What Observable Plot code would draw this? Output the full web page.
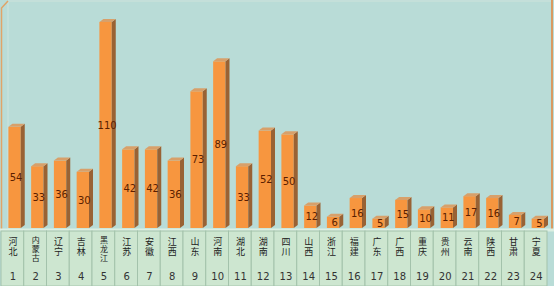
<!DOCTYPE html>
<html><head><meta charset="utf-8">
<script src="https://cdn.jsdelivr.net/npm/d3@7"></script>
<script src="https://cdn.jsdelivr.net/npm/@observablehq/plot@0.6"></script>
<style>body{margin:0;background:#fff}#chart svg{display:block}</style>
</head><body><div id="chart"></div>
<script>
const ids = ["1","2","3","4","5","6","7","8","9","10","11","12","13","14","15","16","17","18","19","20","21","22","23","24"];
const names = ["河北","内蒙古","辽宁","吉林","黑龙江","江苏","安徽","江西","山东","河南","湖北","湖南","四川","山西","浙江","福建","广东","广西","重庆","贵州","云南","陕西","甘肃","宁夏"];
const values = [54,33,36,30,110,42,42,36,73,89,33,52,50,12,6,16,5,15,10,11,17,16,7,5];

const data = ids.map((id, i) => ({id, name: names[i], v: values[i], stack: names[i].split("").join("\n")}));
const shortNames = data.filter(d => d.name.length <= 2);
const longNames = data.filter(d => d.name.length > 2);
const floorY = -31;   // bottom of label band (in value units)
const bandTop = -1.6; // top of label band
const W = 554, H = 286;
const inset = 5.2, shift = 2.2, depthX = 4, depthY = 3;
const cjk = "'Liberation Sans', 'Noto Sans CJK SC', sans-serif";

function box(index, scales) {
  const g = d3.create("svg:g");
  const {x, y} = scales;
  const bw = x.bandwidth ? x.bandwidth() : 22.6;
  for (const d of data) {
    const x0 = x(d.id) + inset + shift, x1 = x(d.id) + bw - inset + shift;
    const yt = y(d.v), yb = y(0);
    g.append("polygon")
      .attr("points", `${x1},${yt} ${x1+depthX},${yt-depthY} ${x1+depthX},${yb-depthY} ${x1},${yb}`)
      .attr("fill", "#996234");
    g.append("polygon")
      .attr("points", `${x0},${yt} ${x0+depthX},${yt-depthY} ${x1+depthX},${yt-depthY} ${x1},${yt}`)
      .attr("fill", "#d8a06a");
  }
  return g.node();
}

function walls(index, scales) {
  const g = d3.create("svg:g");
  const {y} = scales;
  const yb = y(0) + 2;
  g.append("polyline").attr("points", `8,${yb} 8,1 ${W-2},1`).attr("fill","none").attr("stroke","#cfe3dc").attr("stroke-width",1);
  g.append("polyline").attr("points", `1.5,${yb} 1.5,8 8,1`).attr("fill","none").attr("stroke","#e0a468").attr("stroke-width",1.5);
  g.append("line").attr("x1", W-2).attr("x2", W-2).attr("y1", 0).attr("y2", yb).attr("stroke","#d99a62").attr("stroke-width",2);
  g.append("line").attr("x1", 0).attr("x2", W).attr("y1", yb).attr("y2", yb).attr("stroke","#dcefe2").attr("stroke-width",3);
  return g.node();
}

const chart = Plot.plot({
  width: W, height: H,
  marginTop: 0, marginBottom: 0, marginLeft: 0, marginRight: 0,
  style: {background: "#b9dcd7", overflow: "visible"},
  x: {type: "band", domain: ids, range: [1, 547], padding: 0, round: false, axis: null},
  y: {domain: [0, 110], range: [228, 22], axis: null},
  marks: [
    walls,
    Plot.rectY(data, {x: "id", y1: floorY, y2: bandTop, fill: "#cde6d0", stroke: "#a3c2ab", strokeWidth: 1}),
    Plot.barY(data, {x: "id", y: "v", fill: "#f7963f", insetLeft: inset, insetRight: inset, dx: shift}),
    box,
    Plot.text(data, {x: "id", y: d => d.v / 2, text: d => String(d.v), dx: shift + 1, fill: "#5a1e00", fontSize: 10, fontFamily: "DejaVu Sans"}),
    Plot.text(shortNames, {x: "id", y: -9.6, text: "stack", lineAnchor: "middle", lineHeight: 1.17, fill: "#222", fontSize: 9, fontFamily: cjk}),
    Plot.text(longNames, {x: "id", y: -11.2, text: "stack", lineAnchor: "middle", lineHeight: 1.13, fill: "#222", fontSize: 8, fontFamily: cjk}),
    Plot.text(data, {x: "id", y: -25.8, text: "id", fill: "#333", fontSize: 10, fontFamily: "DejaVu Sans"})
  ]
});
document.getElementById("chart").append(chart);
</script></body></html>
